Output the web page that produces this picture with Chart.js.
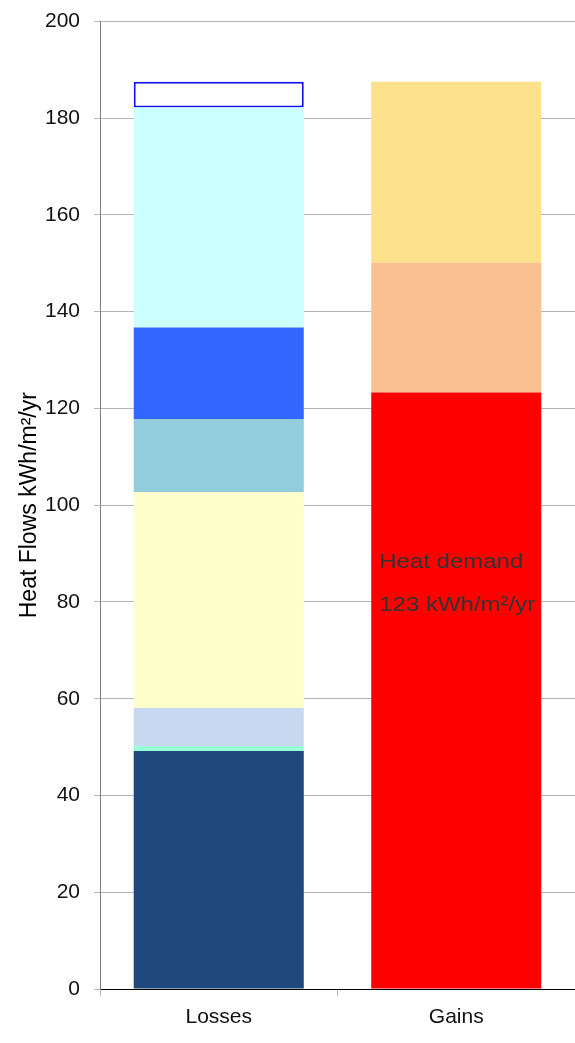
<!DOCTYPE html>
<html>
<head>
<meta charset="utf-8">
<script src="https://cdn.jsdelivr.net/npm/chart.js@4"></script>
<style>
  html, body { margin: 0; padding: 0; background: #ffffff; }
  #wrap { width: 575px; height: 1043px; position: relative; }
</style>
</head>
<body>
<div id="wrap"><canvas id="c"></canvas></div>
<script>
const categories = ['Losses', 'Gains'];
const yTicks = [0, 20, 40, 60, 80, 100, 120, 140, 160, 180, 200];
const yTitle = 'Heat Flows kWh/m²/yr';

// Losses components (bottom to top)
const lossDark   = [49.2, null];
const lossMint   = [1.0, null];
const lossGrey   = [7.9, null];
const lossYellow = [44.6, null];
const lossTeal   = [15.1, null];
const lossBlue   = [18.9, null];
const lossCyan   = [45.5, null];
const lossWhite  = [5.3, null];
// Gains components (bottom to top)
const gainRed    = [null, 123.3];
const gainPeach  = [null, 26.8];
const gainYellow = [null, 37.4];

const annotationLines  = ['Heat demand', '123 kWh/m²/yr'];
const annotationValues = [88.2, 79.3];

const FONT = '"Liberation Sans", Arial, sans-serif';

function ds(label, data, color, border) {
  return {
    label, data,
    backgroundColor: color,
    borderColor: border || color,
    borderWidth: border ? 2 : 0,
    borderSkipped: false,
    categoryPercentage: 1.0,
    barPercentage: 0.716,
    stack: 's'
  };
}

const annotationPlugin = {
  id: 'annot',
  afterDatasetsDraw(chart) {
    const { ctx, scales } = chart;
    const meta = chart.getDatasetMeta(8);
    const bar = meta.data[1];
    const left = bar.x - bar.width / 2 + 8;
    ctx.save();
    ctx.font = '20px ' + FONT;
    ctx.fillStyle = '#333333';
    ctx.textAlign = 'left';
    ctx.textBaseline = 'middle';
    annotationLines.forEach((t, i) => {
      const y = scales.y.getPixelForValue(annotationValues[i]);
      ctx.save();
      ctx.translate(left, y);
      ctx.scale(1.2, 1);
      ctx.fillText(t, 0, 0);
      ctx.restore();
    });
    ctx.restore();
  }
};

new Chart(document.getElementById('c'), {
  type: 'bar',
  data: {
    labels: categories,
    datasets: [
      ds('Dark', lossDark, '#1F497D'),
      ds('Mint', lossMint, '#99FFD9'),
      ds('Grey', lossGrey, '#C6D9F1'),
      ds('Yellow', lossYellow, '#FFFFCC'),
      ds('Teal', lossTeal, '#92CDDC'),
      ds('Blue', lossBlue, '#3366FF'),
      ds('Cyan', lossCyan, '#CCFFFF'),
      ds('White', lossWhite, '#FFFFFF', '#1010F0'),
      ds('Red', gainRed, '#FF0000'),
      ds('Peach', gainPeach, '#FAC090'),
      ds('GainYellow', gainYellow, '#FDE28B')
    ]
  },
  options: {
    responsive: true,
    maintainAspectRatio: false,
    animation: false,
    layout: { padding: { top: 9, right: 0, left: 0, bottom: 0 } },
    plugins: { legend: { display: false }, tooltip: { enabled: false } },
    scales: {
      x: {
        stacked: true,
        grid: { display: true, drawOnChartArea: false, offset: true, tickLength: 7, color: '#b8b8b8' },
        border: { display: true, color: '#000000', width: 1 },
        ticks: { color: '#111111', font: { family: FONT, size: 21 }, padding: 9 },
        afterFit(s) { s.height = 54; }
      },
      y: {
        stacked: true,
        min: 0, max: 200,
        afterBuildTicks(s) { s.ticks = yTicks.map(v => ({ value: v })); },
        grid: { color: '#b4b4b4', tickLength: 6, lineWidth: 1 },
        border: { display: true, color: '#808080', width: 1 },
        ticks: { color: '#111111', font: { family: FONT, size: 21, lineHeight: 0.7 }, padding: 14 },
        title: { display: true, text: yTitle, color: '#000000', font: { family: FONT, size: 23 }, padding: { top: 16, bottom: 0 } },
        afterFit(s) { s.width = 100; }
      }
    }
  },
  plugins: [annotationPlugin]
});
</script>
</body>
</html>
